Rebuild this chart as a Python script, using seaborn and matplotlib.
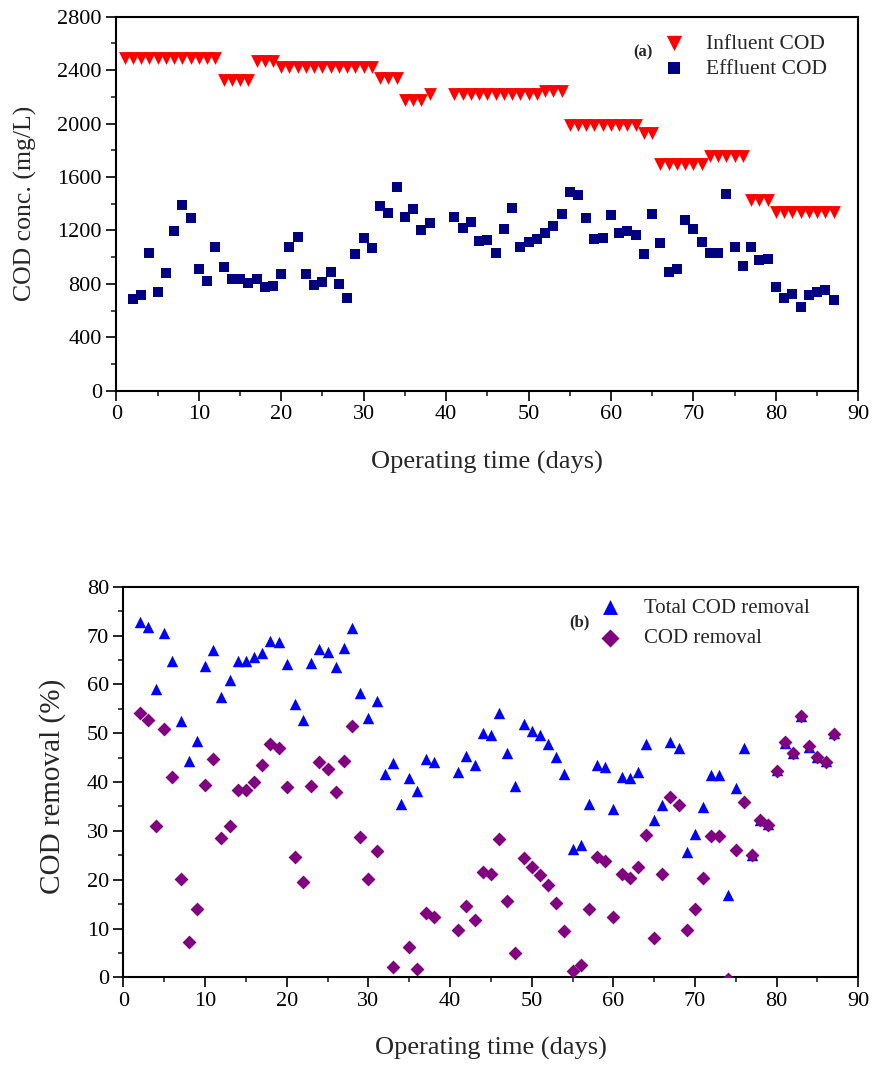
import numpy as np
import pandas as pd
import matplotlib
matplotlib.use("Agg")
import matplotlib.pyplot as plt
from matplotlib.ticker import MultipleLocator
import seaborn as sns

# ---- panel (a): COD concentration ----
influent_days = [1, 2, 3, 4, 5, 6, 7, 8, 9, 10, 11, 12, 13, 14, 15, 16, 17, 18, 19,
                 20, 21, 22, 23, 24, 25, 26, 27, 28, 29, 30, 31, 32, 33, 34, 35, 36, 37, 38,
                 41, 42, 43, 44, 45, 46, 47, 48, 49, 50, 51, 52, 53, 54, 55, 56, 57, 58, 59,
                 60, 61, 62, 63, 64, 65, 66, 67, 68, 69, 70, 71, 72, 73, 74, 75, 76, 77, 78,
                 79, 80, 81, 82, 83, 84, 85, 86, 87]
influent_cod = [2490, 2490, 2490, 2490, 2490, 2490, 2490, 2490, 2490, 2490, 2490, 2490,
                2330, 2330, 2330, 2330, 2465, 2465, 2465,
                2420, 2420, 2420, 2420, 2420, 2420, 2420, 2420, 2420, 2420, 2420, 2420,
                2340, 2340, 2340, 2180, 2180, 2180, 2225,
                2220, 2220, 2220, 2220, 2220, 2220, 2220, 2220, 2220, 2220, 2220,
                2245, 2245, 2245,
                1990, 1990, 1990, 1990, 1990, 1990, 1990, 1990, 1990, 1930, 1930,
                1700, 1700, 1700, 1700, 1700, 1700, 1760, 1760, 1760, 1760, 1760,
                1430, 1430, 1430, 1340, 1340, 1340, 1340, 1340, 1340, 1340, 1340]

effluent_days = [2, 3, 4, 5, 6, 7, 8, 9, 10, 11, 12, 13, 14, 15, 16, 17, 18, 19, 20,
                 21, 22, 23, 24, 25, 26, 27, 28, 29, 30, 31, 32, 33, 34, 35, 36, 37, 38,
                 41, 42, 43, 44, 45, 46, 47, 48, 49, 50, 51, 52, 53, 54, 55, 56, 57, 58, 59,
                 60, 61, 62, 63, 64, 65, 66, 67, 68, 69, 70, 71, 72, 73, 74, 75, 76, 77, 78,
                 79, 80, 81, 82, 83, 84, 85, 86, 87]
effluent_cod = [690, 714, 1033, 736, 883, 1198, 1392, 1290, 908, 823, 1073, 928, 833, 833,
                803, 833, 773, 783, 873, 1078, 1148, 873, 791, 816, 891, 798, 691, 1023,
                1145, 1065, 1382, 1327, 1527, 1297, 1360, 1203, 1257,
                1297, 1220, 1265, 1120, 1128, 1028, 1210, 1365, 1078, 1110, 1133, 1178,
                1235, 1320, 1490, 1465, 1295, 1133, 1140, 1315, 1178, 1195, 1163, 1020,
                1320, 1108, 891, 908, 1277, 1210, 1110, 1033, 1033, 1470, 1073, 936, 1073,
                978, 983, 773, 696, 728, 629, 716, 741, 753, 679]

# ---- panel (b): COD removal ----
total_days = effluent_days
total_removal = [72.7, 71.8, 59.0, 70.6, 64.8, 52.4, 44.4, 48.5, 63.8, 67.0, 57.5, 60.8,
                 64.8, 64.8, 65.7, 66.5, 68.9, 68.7, 64.2, 55.9, 52.8, 64.4, 67.2, 66.6,
                 63.5, 67.4, 71.6, 58.2, 53.2, 56.6, 41.6, 43.8, 35.6, 40.8, 38.2, 44.8, 44.0,
                 42.1, 45.3, 43.5, 50.0, 49.6, 54.2, 45.9, 39.2, 51.9, 50.5, 49.6, 47.8,
                 45.1, 41.6, 26.2, 27.1, 35.6, 43.5, 43.1, 34.5, 41.1, 40.8, 42.1, 47.8,
                 32.2, 35.3, 48.3, 46.9, 25.7, 29.4, 34.9, 41.4, 41.4, 16.9, 38.8, 46.9,
                 25.1, 32.2, 31.5, 42.5, 47.9, 45.9, 53.5, 47.2, 45.1, 44.4, 50.0]

removal_days = [2, 3, 4, 5, 6, 7, 8, 9, 10, 11, 12, 13, 14, 15, 16, 17, 18, 19, 20,
                21, 22, 23, 24, 25, 26, 27, 28, 29, 30, 31, 33, 35, 36, 37, 38,
                41, 42, 43, 44, 45, 46, 47, 48, 49, 50, 51, 52, 53, 54, 55, 56, 57, 58, 59,
                60, 61, 62, 63, 64, 65, 66, 67, 68, 69, 70, 71, 72, 73, 74, 75, 76, 77, 78,
                79, 80, 81, 82, 83, 84, 85, 86, 87]
cod_removal = [54.2, 52.7, 31.0, 50.8, 41.1, 20.1, 7.3, 14.0, 39.4, 44.8, 28.6, 31.0,
               38.4, 38.4, 40.1, 43.5, 47.8, 46.9, 39.0, 24.7, 19.6, 39.2, 44.2, 42.7,
               37.9, 44.3, 51.5, 28.7, 20.1, 25.9, 2.2, 6.3, 1.8, 13.2, 12.4,
               9.7, 14.6, 11.7, 21.6, 21.1, 28.3, 15.6, 4.9, 24.4, 22.5, 21.0, 18.9,
               15.2, 9.5, 1.2, 2.5, 13.9, 24.6, 23.8, 12.4, 21.1, 20.3, 22.7, 29.1,
               8.1, 21.1, 37.0, 35.3, 9.6, 14.0, 20.4, 29.0, 29.0, -0.3, 26.1, 36.0,
               25.1, 32.2, 31.2, 42.3, 48.1, 45.9, 53.5, 47.4, 45.2, 44.2, 49.8]

sns.set_theme(style="ticks")
plt.rcParams['font.family'] = ['Liberation Serif', 'DejaVu Serif']

fig = plt.figure(figsize=(8.75, 10.65), dpi=100)
ax1 = fig.add_axes([0.1330, 0.6331, 0.8479, 0.3512])
ax2 = fig.add_axes([0.1411, 0.0823, 0.8398, 0.3668])


def style_axis(ax):
    for sp in ax.spines.values():
        sp.set_linewidth(1.5)
        sp.set_color('black')
        sp.set_visible(True)
    ax.xaxis.set_major_locator(MultipleLocator(10))
    ax.xaxis.set_minor_locator(MultipleLocator(5))
    ax.tick_params(which='major', direction='out', length=7, width=1.2,
                   labelsize=16, pad=3.5, top=False, right=False, colors='black')
    ax.tick_params(which='minor', direction='out', length=3.6, width=1.2,
                   top=False, right=False)
    ax.grid(False)
    ax.set_facecolor('white')


# panel (a)
sns.scatterplot(x=influent_days, y=influent_cod, marker='v', s=85, color='#ff0000',
                linewidth=0, ax=ax1, label='Influent COD', zorder=3)
sns.scatterplot(x=effluent_days, y=effluent_cod, marker='s', s=52, color='#000080',
                linewidth=0, ax=ax1, label='Effluent COD', zorder=3)
ax1.set_xlim(0, 90)
ax1.set_ylim(0, 2800)
ax1.yaxis.set_major_locator(MultipleLocator(400))
ax1.yaxis.set_minor_locator(MultipleLocator(200))
style_axis(ax1)
ax1.set_xlabel('Operating time (days)', fontsize=19, va='center')
ax1.set_ylabel('COD conc. (mg/L)', fontsize=18.5, va='center')
ax1.xaxis.set_label_coords(0.5, -0.193)
ax1.yaxis.set_label_coords(-0.123, 0.5)
ax1.text(0.710, 0.904, '(a)', transform=ax1.transAxes, fontsize=12,
         fontweight='bold', ha='center', va='center')
ax1.legend(loc='upper left', bbox_to_anchor=(0.737, 0.955), frameon=False,
           fontsize=15.5, handlelength=1.0, handletextpad=0.99, borderpad=0,
           borderaxespad=0, labelspacing=0.25, markerscale=1.2)

# panel (b)
sns.scatterplot(x=total_days, y=total_removal, marker='^', s=68, color='#0000ff',
                linewidth=0, ax=ax2, label='Total COD removal', zorder=3)
sns.scatterplot(x=removal_days, y=cod_removal, marker='D', s=50, color='#800080',
                linewidth=0, ax=ax2, label='COD removal', zorder=4)
ax2.set_xlim(0, 90)
ax2.set_ylim(0, 80)
ax2.yaxis.set_major_locator(MultipleLocator(10))
ax2.yaxis.set_minor_locator(MultipleLocator(5))
style_axis(ax2)
ax2.set_xlabel('Operating time (days)', fontsize=19, va='center')
ax2.set_ylabel('COD removal (%)', fontsize=21, va='center')
ax2.xaxis.set_label_coords(0.5, -0.181)
ax2.yaxis.set_label_coords(-0.096, 0.49)
ax2.text(0.620, 0.908, '(b)', transform=ax2.transAxes, fontsize=12,
         fontweight='bold', ha='center', va='center')
ax2.legend(loc='upper left', bbox_to_anchor=(0.648, 0.971), frameon=False,
           fontsize=15, handlelength=1.0, handletextpad=1.13, borderpad=0,
           borderaxespad=0, labelspacing=0.52, markerscale=1.3)

fig.savefig('out.png', dpi=100, facecolor='white')
